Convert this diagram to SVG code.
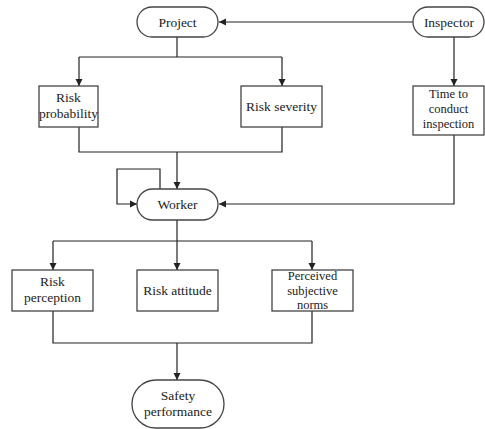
<svg xmlns="http://www.w3.org/2000/svg" width="485" height="429" viewBox="0 0 485 429">
<style>
.n{fill:#fff;stroke:#444;stroke-width:1.3}
.t{font-family:"Liberation Serif","DejaVu Serif",serif;font-size:13.5px;fill:#222;text-anchor:middle}
.s{font-size:12.5px}
.c{fill:none;stroke:#222;stroke-width:1.2}
</style>
<defs>
<marker id="a" markerWidth="8" markerHeight="8" refX="7" refY="4" orient="auto" markerUnits="userSpaceOnUse">
<path d="M0,0.5 L7,4 L0,7.5 Z" fill="#222"/>
</marker>
</defs>
<rect width="485" height="429" fill="#fff"/>
<g id="connectors">
<path class="c" d="M413,22 H219" marker-end="url(#a)"/>
<path class="c" d="M177,37 V57 M79,57 H282"/>
<path class="c" d="M79,57 V86" marker-end="url(#a)"/>
<path class="c" d="M282,57 V86" marker-end="url(#a)"/>
<path class="c" d="M454,37 V86" marker-end="url(#a)"/>
<path class="c" d="M79,127 V152 H282 V127 M177,152 V189" marker-end="url(#a)"/>
<path class="c" d="M160,189 V169 H117 V204 H137" marker-end="url(#a)"/>
<path class="c" d="M454,135 V204 H219" marker-end="url(#a)"/>
<path class="c" d="M177,220 V241 M53,241 H312"/>
<path class="c" d="M53,241 V270" marker-end="url(#a)"/>
<path class="c" d="M177,241 V270" marker-end="url(#a)"/>
<path class="c" d="M312,241 V270" marker-end="url(#a)"/>
<path class="c" d="M53,311 V343 H312 V311 M177,343 V380" marker-end="url(#a)"/>
</g>
<g id="project">
<rect class="n" x="137" y="7" width="81" height="30" rx="15"/>
<text class="t" x="177.5" y="26.5">Project</text>
</g>
<g id="inspector">
<rect class="n" x="413" y="7" width="71" height="30" rx="15"/>
<text class="t" x="449" y="26.5">Inspector</text>
</g>
<g id="risk-probability">
<rect class="n" x="39" y="86" width="59" height="41"/>
<text class="t" x="68.5" y="102">Risk</text>
<text class="t" x="68.5" y="118">probability</text>
</g>
<g id="risk-severity">
<rect class="n" x="241" y="86" width="81" height="41"/>
<text class="t" x="281.5" y="110.5">Risk severity</text>
</g>
<g id="time-to-conduct-inspection">
<rect class="n" x="413" y="86" width="71" height="49"/>
<text class="t s" x="448.5" y="98">Time to</text>
<text class="t s" x="448.5" y="113">conduct</text>
<text class="t s" x="448.5" y="128">inspection</text>
</g>
<g id="worker">
<rect class="n" x="137" y="189" width="81" height="31" rx="15.5"/>
<text class="t" x="177.5" y="209">Worker</text>
</g>
<g id="risk-perception">
<rect class="n" x="12" y="270" width="81" height="41"/>
<text class="t" x="52.5" y="286">Risk</text>
<text class="t" x="52.5" y="302">perception</text>
</g>
<g id="risk-attitude">
<rect class="n" x="137" y="270" width="81" height="41"/>
<text class="t" x="177.5" y="295">Risk attitude</text>
</g>
<g id="perceived-subjective-norms">
<rect class="n" x="272" y="270" width="81" height="41"/>
<text class="t s" x="312.5" y="280">Perceived</text>
<text class="t s" x="312.5" y="294.5">subjective</text>
<text class="t s" x="312.5" y="309">norms</text>
</g>
<g id="safety-performance">
<rect class="n" x="132" y="380" width="92" height="48" rx="24"/>
<text class="t" x="178" y="400">Safety</text>
<text class="t" x="178" y="416">performance</text>
</g>
</svg>
